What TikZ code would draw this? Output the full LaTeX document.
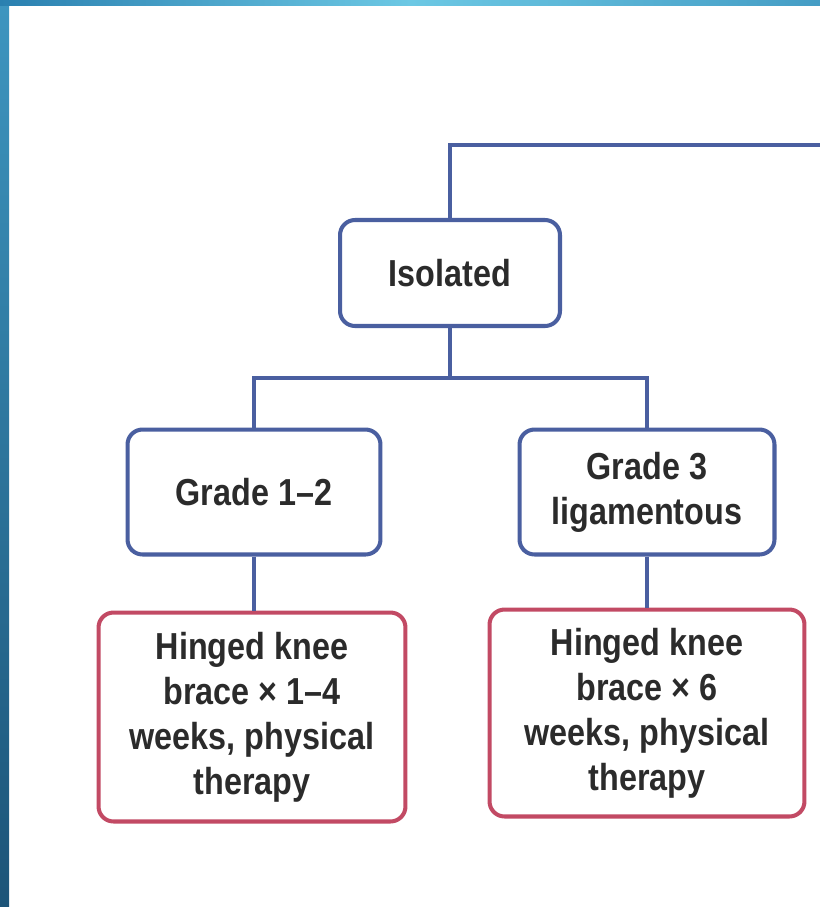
\documentclass[tikz,border=0pt]{standalone}
\usepackage{fontspec}
\setmainfont{Liberation Sans}[FakeStretch=0.86]
\definecolor{boxblue}{HTML}{4A5FA0}
\definecolor{boxred}{HTML}{C24A64}
\definecolor{inkgray}{HTML}{2B2B2B}
\definecolor{slidedark}{HTML}{2A80B0}
\definecolor{slidelight}{HTML}{6CC8E4}
\definecolor{slidedeep}{HTML}{1C5478}

\begin{document}
\begin{tikzpicture}[x=0.02cm, y=-0.02cm,
  every node/.style={font=\bfseries\fontsize{21.4pt}{25.6pt}\selectfont, text=inkgray, align=center},
  bluebox/.style={draw=boxblue, line width=2.3pt, rounded corners=0.3cm, fill=white, inner sep=0pt},
  redbox/.style={draw=boxred, line width=2.3pt, rounded corners=0.3cm, fill=white, inner sep=0pt},
  link/.style={draw=boxblue, line width=2.3pt}]
  \useasboundingbox (0,0) rectangle (820,907);
  \fill[white] (0,0) rectangle (820,907);
  \shade[top color=slidedark!70!slidelight, bottom color=slidedeep] (0,0) rectangle (9,907);
  \shade[left color=slidedark, right color=slidedark!60!slidelight, middle color=slidelight] (0,0) rectangle (820,5);

  \coordinate (topend) at (820,145);
  \coordinate (fork) at (450,378);

  \node[bluebox, minimum width=4.4cm, minimum height=2.12cm] (iso) at (450,273) {Isolated};
  \node[bluebox, minimum width=5.06cm, minimum height=2.5cm] (g12) at (254,492) {Grade 1--2};
  \node[bluebox, minimum width=5.1cm, minimum height=2.5cm] (g3) at (647,492) {Grade 3\\ligamentous};
  \node[redbox, minimum width=6.14cm, minimum height=4.18cm] (tx12) at (252,717) {Hinged knee\\brace × 1--4\\weeks, physical\\therapy};
  \node[redbox, minimum width=6.3cm, minimum height=4.14cm] (tx3) at (647,713) {Hinged knee\\brace × 6\\weeks, physical\\therapy};

  \draw[link] (iso.north) |- (topend);
  \draw[link] (iso.south) -- (fork);
  \draw[link] (g12.north) |- (fork) -| (g3.north);
  \draw[link] (g12.south) -- (tx12.north -| g12.south);
  \draw[link] (g3.south) -- (tx3.north);
\end{tikzpicture}
\end{document}
